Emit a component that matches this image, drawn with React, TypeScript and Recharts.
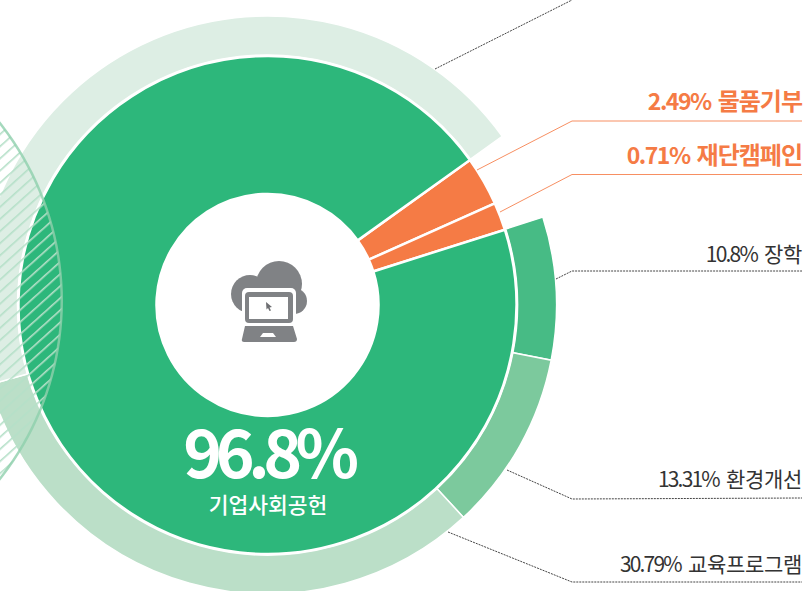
import { PieChart, Pie, Cell } from "recharts";

// Drawn shares (in degrees of sweep). The source graphic is not to scale with its printed percentages.
const innerNames = ["물품기부", "재단캠페인", "기업사회공헌"];
const innerShares = [11.5, 6.5, 342];
const innerColors = ["#F57B45", "#F57B45", "#2DB77B"];

const ringNames = ["장학", "환경개선", "교육프로그램", "기타"];
const ringShares = [28.7, 36.3, 116.7, 160.3];
const ringColors = ["#47BB85", "#7CC99D", "#BBDFC8", "#DDEEE4"];

const hatchNames = ["비교"];
const hatchShares = [100];

const calloutLabels = [
  { pct: "2.49%", name: "물품기부", y: 110, accent: true },
  { pct: "0.71%", name: "재단캠페인", y: 164, accent: true },
  { pct: "10.8%", name: "장학", y: 262, accent: false },
  { pct: "13.31%", name: "환경개선", y: 487, accent: false },
  { pct: "30.79%", name: "교육프로그램", y: 572, accent: false },
];

const orangeLeaders = [
  "M477 170 L572 121 L802 121",
  "M500 212 L572 174.5 L802 174.5",
];
const dottedLeaders = [
  "M435 69 L572 0",
  "M556 279 L572 271 L802 271",
  "M507 470 L572 499 L802 498",
  "M448 532 L572 582 L802 582",
];

const FONT = '"Noto Sans CJK KR", "Noto Sans", sans-serif';
const CX = 267.5;
const CY = 305;

function toRows(names: string[], values: number[]) {
  return names.map((name, i) => ({ name, value: values[i] }));
}

function CloudLaptop() {
  return (
    <g>
      <g fill="#808285">
        <circle cx={279} cy={284} r={23} />
        <circle cx={250} cy={294} r={19} />
        <circle cx={294} cy={301} r={13} />
        <rect x={250} y={284} width={44} height={28} />
      </g>
      <rect x={242} y={288} width={54} height={38} rx={5} fill="#fff" />
      <rect x={245} y={292} width={48} height={31} rx={4} fill="#808285" />
      <rect x={249} y={297} width={39} height={22} fill="#fff" />
      <path d="M245 326 L293 326 L297 339 Q297 342 294 342 L244 342 Q241 342 242 339 Z" fill="#808285" />
      <path d="M263 333 L273 333 L276 337 L260 337 Z" fill="#fff" />
      <path d="M266 302 L272 307 L269.5 307.5 L271 310.5 L269.5 311 L268 308 L266.5 309.5 Z" fill="#6d6e71" />
    </g>
  );
}

export default function App() {
  return (
    <div style={{ position: "absolute", left: 0, top: 0, width: 805, height: 591, overflow: "hidden" }}>
      <PieChart width={805} height={591} margin={{ top: 0, right: 0, bottom: 0, left: 0 }}>
        <defs>
          <pattern id="hatch" width={9} height={9} patternUnits="userSpaceOnUse" patternTransform="rotate(-42)">
            <rect x={0} y={0} width={9} height={1.6} fill="#B5E0C8" />
          </pattern>
        </defs>
        <Pie
          data={toRows(ringNames, ringShares)}
          dataKey="value"
          nameKey="name"
          cx={CX}
          cy={CY}
          innerRadius={250}
          outerRadius={289}
          startAngle={17.7}
          endAngle={-324.3}
          stroke="#fff"
          strokeWidth={1.5}
          isAnimationActive={false}
        >
          {ringColors.map((c) => (
            <Cell key={c} fill={c} />
          ))}
        </Pie>
        <Pie
          data={toRows(innerNames, innerShares)}
          dataKey="value"
          nameKey="name"
          cx={CX}
          cy={CY}
          innerRadius={111}
          outerRadius={249}
          startAngle={35.6}
          endAngle={-324.4}
          stroke="#fff"
          strokeWidth={2.5}
          isAnimationActive={false}
        >
          {innerNames.map((n, i) => (
            <Cell key={n} fill={innerColors[i]} />
          ))}
        </Pie>
        <Pie
          data={toRows(hatchNames, hatchShares)}
          dataKey="value"
          nameKey="name"
          cx={-225}
          cy={301}
          innerRadius={0}
          outerRadius={287}
          fill="url(#hatch)"
          stroke="none"
          isAnimationActive={false}
        />
        <Pie
          data={toRows(hatchNames, hatchShares)}
          dataKey="value"
          nameKey="name"
          cx={-225}
          cy={301}
          innerRadius={285.5}
          outerRadius={288}
          fill="#8FD0AC"
          fillOpacity={0.8}
          stroke="none"
          isAnimationActive={false}
        />
      </PieChart>
      {/* Pie sectors paint over chart children, so the annotations sit in their own layer on top */}
      <svg width={805} height={591} style={{ position: "absolute", left: 0, top: 0 }}>
        <CloudLaptop />
        <text x={268} y={478} textAnchor="middle" fontFamily={FONT} fontSize={66} fontWeight={700} letterSpacing={-6.5} fill="#fff">
          96.8%
        </text>
        <text x={268} y={513} textAnchor="middle" fontFamily={FONT} fontSize={21.5} fontWeight={500} fill="#fff">
          기업사회공헌
        </text>
        {orangeLeaders.map((d) => (
          <path key={d} d={d} fill="none" stroke="#F78F62" strokeWidth={1} />
        ))}
        {dottedLeaders.map((d) => (
          <path key={d} d={d} fill="none" stroke="#444" strokeWidth={1} strokeDasharray="2 1" />
        ))}
        {calloutLabels.map((l) => (
          <text
            key={l.name}
            x={802}
            y={l.y}
            textAnchor="end"
            fontFamily={FONT}
            fontWeight={l.accent ? 700 : 400}
            fill={l.accent ? "#F57B45" : "#333"}
          >
            <tspan fontSize={l.accent ? 23 : 21} letterSpacing={l.accent ? -1.5 : -1.8}>
              {l.pct}
            </tspan>
            <tspan dx={7} fontSize={l.accent ? 24 : 21} letterSpacing={l.accent ? -1 : -0.3}>
              {l.name}
            </tspan>
          </text>
        ))}
      </svg>
    </div>
  );
}
